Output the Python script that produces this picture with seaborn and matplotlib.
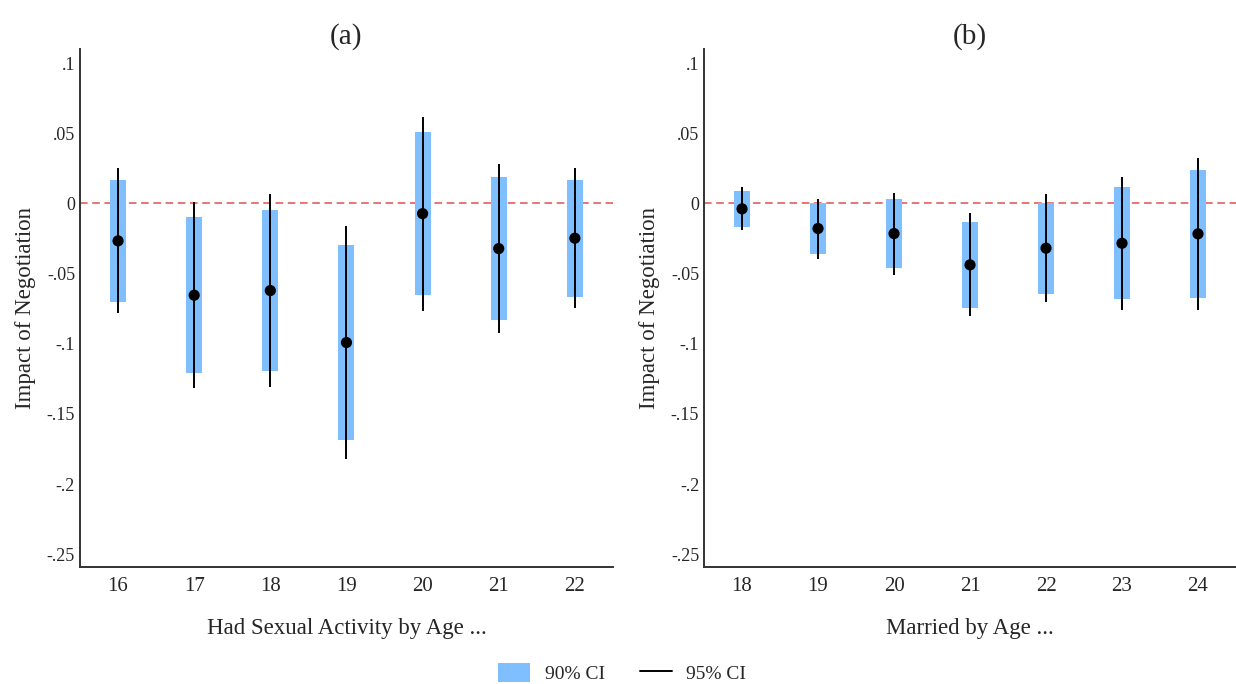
import matplotlib
matplotlib.use("Agg")
import matplotlib.pyplot as plt
from matplotlib.patches import Patch
from matplotlib.lines import Line2D
import numpy as np
import pandas as pd
import seaborn as sns

# panel (a): had sexual activity by age
ages_a = [16, 17, 18, 19, 20, 21, 22]
est_a = [-0.0267, -0.0654, -0.0621, -0.0991, -0.0073, -0.0322, -0.0248]
lo90_a = [-0.0699, -0.1209, -0.1193, -0.1687, -0.0652, -0.0830, -0.0664]
hi90_a = [0.0167, -0.0098, -0.0046, -0.0296, 0.0507, 0.0187, 0.0167]
lo95_a = [-0.0782, -0.1316, -0.1305, -0.1821, -0.0766, -0.0925, -0.0746]
hi95_a = [0.0251, 0.0009, 0.0066, -0.0158, 0.0618, 0.0283, 0.0251]

# panel (b): married by age
ages_b = [18, 19, 20, 21, 22, 23, 24]
est_b = [-0.0039, -0.0179, -0.0215, -0.0438, -0.0319, -0.0284, -0.0217]
lo90_b = [-0.0165, -0.0357, -0.0459, -0.0742, -0.0642, -0.0683, -0.0671]
hi90_b = [0.0089, 0.0000, 0.0030, -0.0130, 0.0006, 0.0115, 0.0239]
lo95_b = [-0.0189, -0.0393, -0.0507, -0.0804, -0.0706, -0.0759, -0.0759]
hi95_b = [0.0115, 0.0034, 0.0077, -0.0070, 0.0068, 0.0191, 0.0326]

yticks = [0.1, 0.05, 0, -0.05, -0.1, -0.15, -0.2, -0.25]
ytick_labels = [".1", ".05", "0", "-.05", "-.1", "-.15", "-.2", "-.25"]

BAR_COLOR = "#80bfff"
SPINE_COLOR = "#333333"

sns.set_theme(style="white")
plt.rcParams["font.family"] = ["Liberation Serif", "DejaVu Serif"]


def draw_panel(ax, ages, est, lo90, hi90, lo95, hi95, title, xlabel):
    df = pd.DataFrame({"age": ages, "est": est, "lo90": lo90, "hi90": hi90,
                       "lo95": lo95, "hi95": hi95})
    ax.axhline(0, color="#e05050", linestyle=(0, (5, 3)), linewidth=1.1, zorder=1)
    ax.bar(df["age"], df["hi90"] - df["lo90"], bottom=df["lo90"], width=0.21,
           color=BAR_COLOR, edgecolor="none", zorder=2)
    ax.vlines(df["age"], df["lo95"], df["hi95"], color="black", linewidth=1.4,
              zorder=3)
    sns.scatterplot(data=df, x="age", y="est", color="black", s=65,
                    edgecolor="none", zorder=4, ax=ax, legend=False)
    ax.set_xlim(ages[0] - 0.5, ages[-1] + 0.5)
    ax.set_ylim(-0.259, 0.110)
    ax.set_xticks(ages)
    ax.set_xticklabels([str(a) for a in ages], fontsize=15)
    ax.set_yticks(yticks)
    ax.set_yticklabels(ytick_labels, fontsize=13)
    ax.tick_params(axis="y", length=0, pad=3.5)
    ax.tick_params(axis="x", length=0, pad=7)
    ax.set_xlabel(xlabel, fontsize=16.5, labelpad=16)
    ax.set_ylabel("Impact of Negotiation", fontsize=16.5, labelpad=8)
    ax.set_title(title, fontsize=21, pad=4)
    for s in ["top", "right"]:
        ax.spines[s].set_visible(False)
    for s in ["left", "bottom"]:
        ax.spines[s].set_color(SPINE_COLOR)
        ax.spines[s].set_linewidth(1.4)


fig = plt.figure(figsize=(12.36, 6.84), dpi=100)
ax1 = fig.add_axes([0.0647, 0.1711, 0.4312, 0.7573])
ax2 = fig.add_axes([0.5696, 0.1711, 0.4304, 0.7573])

draw_panel(ax1, ages_a, est_a, lo90_a, hi90_a, lo95_a, hi95_a, "(a)",
           "Had Sexual Activity by Age ...")
draw_panel(ax2, ages_b, est_b, lo90_b, hi90_b, lo95_b, hi95_b, "(b)",
           "Married by Age ...")

handles = [Patch(facecolor=BAR_COLOR, edgecolor="none", label="90% CI"),
           Line2D([0], [0], color="black", linewidth=1.4, label="95% CI")]
fig.legend(handles=handles, loc="lower center", ncol=2, frameon=False,
           fontsize=14, bbox_to_anchor=(0.5033, -0.024), handlelength=1.65,
           handleheight=1.1, handletextpad=0.75, columnspacing=1.8)

fig.savefig("out.png", dpi=100)
